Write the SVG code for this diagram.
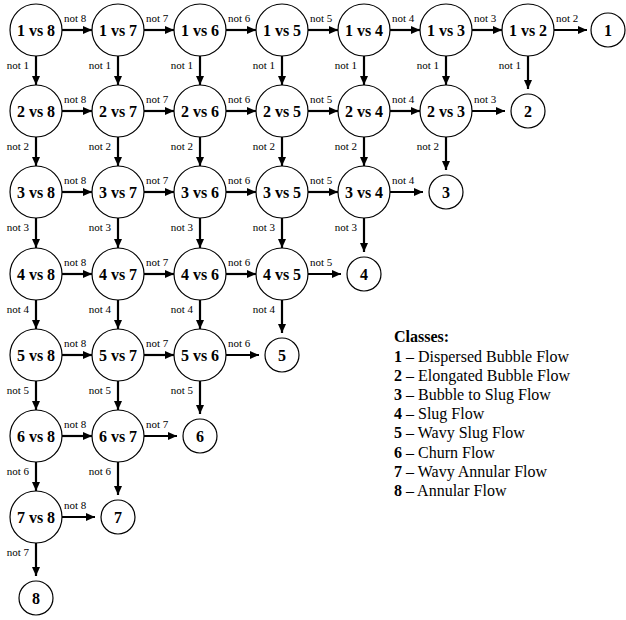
<svg xmlns="http://www.w3.org/2000/svg" width="626" height="620" viewBox="0 0 626 620">
<style>
.c{fill:#fff;stroke:#000;stroke-width:1.2}
.n{font-family:"Liberation Serif",serif;font-weight:bold;font-size:16px;text-anchor:middle;fill:#000}
.a{stroke:#000;stroke-width:2.2;fill:none;marker-end:url(#ah)}
.l{font-family:"Liberation Serif",serif;font-size:11px;fill:#000}
.v{text-anchor:end}
.g{font-family:"Liberation Serif",serif;font-size:16px;fill:#000}
.b{font-weight:bold}
</style>
<defs>
<marker id="ah" markerUnits="userSpaceOnUse" markerWidth="10" markerHeight="10" refX="9" refY="4" orient="auto">
<path d="M0,0 L9,4 L0,8 z" fill="#000"/>
</marker>
</defs>
<g id="connectors">
<line class="a" x1="62" y1="30" x2="92" y2="30"/><text class="l" x="64" y="22">not 8</text>
<line class="a" x1="144" y1="30" x2="174" y2="30"/><text class="l" x="146" y="22">not 7</text>
<line class="a" x1="226" y1="30" x2="256" y2="30"/><text class="l" x="228" y="22">not 6</text>
<line class="a" x1="308" y1="30" x2="338" y2="30"/><text class="l" x="310" y="22">not 5</text>
<line class="a" x1="390" y1="30" x2="420" y2="30"/><text class="l" x="392" y="22">not 4</text>
<line class="a" x1="472" y1="30" x2="502" y2="30"/><text class="l" x="474" y="22">not 3</text>
<line class="a" x1="554" y1="30" x2="587" y2="30"/><text class="l" x="556" y="22">not 2</text>
<line class="a" x1="62" y1="111" x2="92" y2="111"/><text class="l" x="64" y="103">not 8</text>
<line class="a" x1="144" y1="111" x2="174" y2="111"/><text class="l" x="146" y="103">not 7</text>
<line class="a" x1="226" y1="111" x2="256" y2="111"/><text class="l" x="228" y="103">not 6</text>
<line class="a" x1="308" y1="111" x2="338" y2="111"/><text class="l" x="310" y="103">not 5</text>
<line class="a" x1="390" y1="111" x2="420" y2="111"/><text class="l" x="392" y="103">not 4</text>
<line class="a" x1="472" y1="111" x2="505" y2="111"/><text class="l" x="474" y="103">not 3</text>
<line class="a" x1="62" y1="192" x2="92" y2="192"/><text class="l" x="64" y="184">not 8</text>
<line class="a" x1="144" y1="192" x2="174" y2="192"/><text class="l" x="146" y="184">not 7</text>
<line class="a" x1="226" y1="192" x2="256" y2="192"/><text class="l" x="228" y="184">not 6</text>
<line class="a" x1="308" y1="192" x2="338" y2="192"/><text class="l" x="310" y="184">not 5</text>
<line class="a" x1="390" y1="192" x2="423" y2="192"/><text class="l" x="392" y="184">not 4</text>
<line class="a" x1="62" y1="274" x2="92" y2="274"/><text class="l" x="64" y="266">not 8</text>
<line class="a" x1="144" y1="274" x2="174" y2="274"/><text class="l" x="146" y="266">not 7</text>
<line class="a" x1="226" y1="274" x2="256" y2="274"/><text class="l" x="228" y="266">not 6</text>
<line class="a" x1="308" y1="274" x2="341" y2="274"/><text class="l" x="310" y="266">not 5</text>
<line class="a" x1="62" y1="355" x2="92" y2="355"/><text class="l" x="64" y="347">not 8</text>
<line class="a" x1="144" y1="355" x2="174" y2="355"/><text class="l" x="146" y="347">not 7</text>
<line class="a" x1="226" y1="355" x2="259" y2="355"/><text class="l" x="228" y="347">not 6</text>
<line class="a" x1="62" y1="436" x2="92" y2="436"/><text class="l" x="64" y="428">not 8</text>
<line class="a" x1="144" y1="436" x2="177" y2="436"/><text class="l" x="146" y="428">not 7</text>
<line class="a" x1="62" y1="517" x2="95" y2="517"/><text class="l" x="64" y="509">not 8</text>

<line class="a" x1="36" y1="56" x2="36" y2="85"/><text class="l v" x="29" y="69">not 1</text>
<line class="a" x1="36" y1="137" x2="36" y2="166"/><text class="l v" x="29" y="150">not 2</text>
<line class="a" x1="36" y1="218" x2="36" y2="248"/><text class="l v" x="29" y="231">not 3</text>
<line class="a" x1="36" y1="300" x2="36" y2="329"/><text class="l v" x="29" y="313">not 4</text>
<line class="a" x1="36" y1="381" x2="36" y2="410"/><text class="l v" x="29" y="394">not 5</text>
<line class="a" x1="36" y1="462" x2="36" y2="491"/><text class="l v" x="29" y="475">not 6</text>
<line class="a" x1="36" y1="543" x2="36" y2="576"/><text class="l v" x="29" y="556">not 7</text>
<line class="a" x1="118" y1="56" x2="118" y2="85"/><text class="l v" x="111" y="69">not 1</text>
<line class="a" x1="118" y1="137" x2="118" y2="166"/><text class="l v" x="111" y="150">not 2</text>
<line class="a" x1="118" y1="218" x2="118" y2="248"/><text class="l v" x="111" y="231">not 3</text>
<line class="a" x1="118" y1="300" x2="118" y2="329"/><text class="l v" x="111" y="313">not 4</text>
<line class="a" x1="118" y1="381" x2="118" y2="410"/><text class="l v" x="111" y="394">not 5</text>
<line class="a" x1="118" y1="462" x2="118" y2="495"/><text class="l v" x="111" y="475">not 6</text>
<line class="a" x1="200" y1="56" x2="200" y2="85"/><text class="l v" x="193" y="69">not 1</text>
<line class="a" x1="200" y1="137" x2="200" y2="166"/><text class="l v" x="193" y="150">not 2</text>
<line class="a" x1="200" y1="218" x2="200" y2="248"/><text class="l v" x="193" y="231">not 3</text>
<line class="a" x1="200" y1="300" x2="200" y2="329"/><text class="l v" x="193" y="313">not 4</text>
<line class="a" x1="200" y1="381" x2="200" y2="414"/><text class="l v" x="193" y="394">not 5</text>
<line class="a" x1="282" y1="56" x2="282" y2="85"/><text class="l v" x="275" y="69">not 1</text>
<line class="a" x1="282" y1="137" x2="282" y2="166"/><text class="l v" x="275" y="150">not 2</text>
<line class="a" x1="282" y1="218" x2="282" y2="248"/><text class="l v" x="275" y="231">not 3</text>
<line class="a" x1="282" y1="300" x2="282" y2="333"/><text class="l v" x="275" y="313">not 4</text>
<line class="a" x1="364" y1="56" x2="364" y2="85"/><text class="l v" x="357" y="69">not 1</text>
<line class="a" x1="364" y1="137" x2="364" y2="166"/><text class="l v" x="357" y="150">not 2</text>
<line class="a" x1="364" y1="218" x2="364" y2="252"/><text class="l v" x="357" y="231">not 3</text>
<line class="a" x1="446" y1="56" x2="446" y2="85"/><text class="l v" x="439" y="69">not 1</text>
<line class="a" x1="446" y1="137" x2="446" y2="170"/><text class="l v" x="439" y="150">not 2</text>
<line class="a" x1="528" y1="56" x2="528" y2="89"/><text class="l v" x="521" y="69">not 1</text>
</g>

<g id="n1v8"><circle class="c" cx="36" cy="30" r="26"/><text class="n" x="36" y="35.5">1 vs 8</text></g>
<g id="n1v7"><circle class="c" cx="118" cy="30" r="26"/><text class="n" x="118" y="35.5">1 vs 7</text></g>
<g id="n1v6"><circle class="c" cx="200" cy="30" r="26"/><text class="n" x="200" y="35.5">1 vs 6</text></g>
<g id="n1v5"><circle class="c" cx="282" cy="30" r="26"/><text class="n" x="282" y="35.5">1 vs 5</text></g>
<g id="n1v4"><circle class="c" cx="364" cy="30" r="26"/><text class="n" x="364" y="35.5">1 vs 4</text></g>
<g id="n1v3"><circle class="c" cx="446" cy="30" r="26"/><text class="n" x="446" y="35.5">1 vs 3</text></g>
<g id="n1v2"><circle class="c" cx="528" cy="30" r="26"/><text class="n" x="528" y="35.5">1 vs 2</text></g>
<g id="leaf1"><circle class="c" cx="608" cy="30" r="17"/><text class="n" x="608" y="35.5">1</text></g>

<g id="n2v8"><circle class="c" cx="36" cy="111" r="26"/><text class="n" x="36" y="116.5">2 vs 8</text></g>
<g id="n2v7"><circle class="c" cx="118" cy="111" r="26"/><text class="n" x="118" y="116.5">2 vs 7</text></g>
<g id="n2v6"><circle class="c" cx="200" cy="111" r="26"/><text class="n" x="200" y="116.5">2 vs 6</text></g>
<g id="n2v5"><circle class="c" cx="282" cy="111" r="26"/><text class="n" x="282" y="116.5">2 vs 5</text></g>
<g id="n2v4"><circle class="c" cx="364" cy="111" r="26"/><text class="n" x="364" y="116.5">2 vs 4</text></g>
<g id="n2v3"><circle class="c" cx="446" cy="111" r="26"/><text class="n" x="446" y="116.5">2 vs 3</text></g>
<g id="leaf2"><circle class="c" cx="528" cy="111" r="17"/><text class="n" x="528" y="116.5">2</text></g>

<g id="n3v8"><circle class="c" cx="36" cy="192" r="26"/><text class="n" x="36" y="197.5">3 vs 8</text></g>
<g id="n3v7"><circle class="c" cx="118" cy="192" r="26"/><text class="n" x="118" y="197.5">3 vs 7</text></g>
<g id="n3v6"><circle class="c" cx="200" cy="192" r="26"/><text class="n" x="200" y="197.5">3 vs 6</text></g>
<g id="n3v5"><circle class="c" cx="282" cy="192" r="26"/><text class="n" x="282" y="197.5">3 vs 5</text></g>
<g id="n3v4"><circle class="c" cx="364" cy="192" r="26"/><text class="n" x="364" y="197.5">3 vs 4</text></g>
<g id="leaf3"><circle class="c" cx="446" cy="192" r="17"/><text class="n" x="446" y="197.5">3</text></g>

<g id="n4v8"><circle class="c" cx="36" cy="274" r="26"/><text class="n" x="36" y="279.5">4 vs 8</text></g>
<g id="n4v7"><circle class="c" cx="118" cy="274" r="26"/><text class="n" x="118" y="279.5">4 vs 7</text></g>
<g id="n4v6"><circle class="c" cx="200" cy="274" r="26"/><text class="n" x="200" y="279.5">4 vs 6</text></g>
<g id="n4v5"><circle class="c" cx="282" cy="274" r="26"/><text class="n" x="282" y="279.5">4 vs 5</text></g>
<g id="leaf4"><circle class="c" cx="364" cy="274" r="17"/><text class="n" x="364" y="279.5">4</text></g>

<g id="n5v8"><circle class="c" cx="36" cy="355" r="26"/><text class="n" x="36" y="360.5">5 vs 8</text></g>
<g id="n5v7"><circle class="c" cx="118" cy="355" r="26"/><text class="n" x="118" y="360.5">5 vs 7</text></g>
<g id="n5v6"><circle class="c" cx="200" cy="355" r="26"/><text class="n" x="200" y="360.5">5 vs 6</text></g>
<g id="leaf5"><circle class="c" cx="282" cy="355" r="17"/><text class="n" x="282" y="360.5">5</text></g>

<g id="n6v8"><circle class="c" cx="36" cy="436" r="26"/><text class="n" x="36" y="441.5">6 vs 8</text></g>
<g id="n6v7"><circle class="c" cx="118" cy="436" r="26"/><text class="n" x="118" y="441.5">6 vs 7</text></g>
<g id="leaf6"><circle class="c" cx="200" cy="436" r="17"/><text class="n" x="200" y="441.5">6</text></g>

<g id="n7v8"><circle class="c" cx="36" cy="517" r="26"/><text class="n" x="36" y="522.5">7 vs 8</text></g>
<g id="leaf7"><circle class="c" cx="118" cy="517" r="17"/><text class="n" x="118" y="522.5">7</text></g>

<g id="leaf8"><circle class="c" cx="36" cy="598" r="17"/><text class="n" x="36" y="603.5">8</text></g>

<g id="legend">
<text class="g b" x="394" y="342">Classes:</text>
<text class="g" x="394" y="361.5"><tspan class="b">1</tspan> – Dispersed Bubble Flow</text>
<text class="g" x="394" y="380.7"><tspan class="b">2</tspan> – Elongated Bubble Flow</text>
<text class="g" x="394" y="399.9"><tspan class="b">3</tspan> – Bubble to Slug Flow</text>
<text class="g" x="394" y="419.1"><tspan class="b">4</tspan> – Slug Flow</text>
<text class="g" x="394" y="438.3"><tspan class="b">5</tspan> – Wavy Slug Flow</text>
<text class="g" x="394" y="457.5"><tspan class="b">6</tspan> – Churn Flow</text>
<text class="g" x="394" y="476.7"><tspan class="b">7</tspan> – Wavy Annular Flow</text>
<text class="g" x="394" y="495.9"><tspan class="b">8</tspan> – Annular Flow</text>
</g>
</svg>
